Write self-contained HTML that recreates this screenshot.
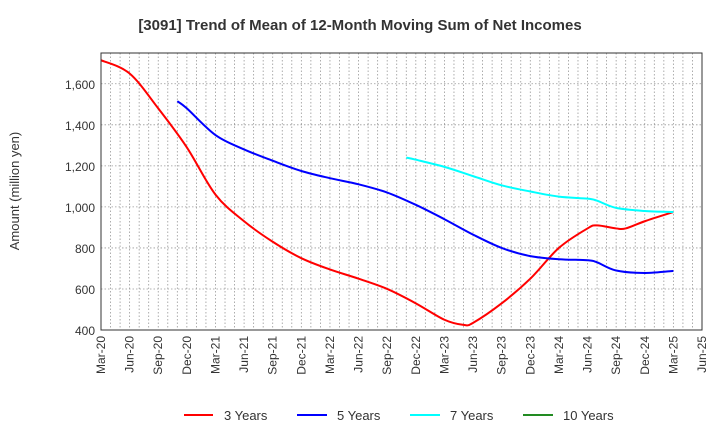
<!DOCTYPE html>
<html><head><meta charset="utf-8"><style>
body{margin:0;background:#fff;font-family:"Liberation Sans",sans-serif}
svg text{font-family:"Liberation Sans",sans-serif;fill:#333}
</style></head><body>
<svg id="c" width="720" height="440">
<text x="360" y="30" text-anchor="middle" font-size="15" font-weight="bold">[3091]  Trend of Mean of 12-Month Moving Sum of Net Incomes</text>
<text transform="translate(19,191) rotate(-90)" text-anchor="middle" font-size="13">Amount (million yen)</text>
<g id="grid"></g><g id="series"></g><g id="axes"></g>
<g>
<line x1="184" y1="415" x2="213" y2="415" stroke="#ff0000" stroke-width="2"/><text x="224" y="420" font-size="13">3 Years</text>
<line x1="297" y1="415" x2="327" y2="415" stroke="#0000ff" stroke-width="2"/><text x="337" y="420" font-size="13">5 Years</text>
<line x1="410" y1="415" x2="440" y2="415" stroke="#00ffff" stroke-width="2"/><text x="450" y="420" font-size="13">7 Years</text>
<line x1="523" y1="415" x2="553" y2="415" stroke="#228b22" stroke-width="2"/><text x="563" y="420" font-size="13">10 Years</text>
</g>
</svg>
<script>
const xTickLabels=["Mar-20","Jun-20","Sep-20","Dec-20","Mar-21","Jun-21","Sep-21","Dec-21","Mar-22","Jun-22","Sep-22","Dec-22","Mar-23","Jun-23","Sep-23","Dec-23","Mar-24","Jun-24","Sep-24","Dec-24","Mar-25","Jun-25"];
const yTicks=[400,600,800,1000,1200,1400,1600];
// month index from Mar-20
const months3=[0,3,6,9,12,15,18,21,24,27,30,33,36,38,39,42,45,48,51,52,54,55,57,60];
const vals3=[1715,1650,1480,1290,1060,930,830,750,695,650,600,530,450,425,435,530,650,800,895,910,895,895,930,975];
const months5=[8,9,12,15,18,21,24,27,30,33,36,39,42,45,48,51,52,54,57,60];
const vals5=[1515,1480,1350,1280,1225,1175,1140,1110,1070,1010,940,865,800,760,745,740,730,690,678,688];
const months7=[32,33,36,39,42,45,48,51,52,54,57,60];
const vals7=[1240,1230,1195,1150,1105,1075,1050,1040,1030,995,980,975];
const L=101,R=702,T=53,B=330,YMIN=400,YMAX=1750,NM=63;
const X=m=>L+(R-L)*m/NM, Y=v=>B-(B-T)*(v-YMIN)/(YMAX-YMIN);
const NS="http://www.w3.org/2000/svg";
function mk(t,a,p){const e=document.createElementNS(NS,t);for(const k in a)e.setAttribute(k,a[k]);p.appendChild(e);return e;}
const grid=document.getElementById('grid'),axes=document.getElementById('axes'),ser=document.getElementById('series');
for(let m=1;m<NM;m++){const l=mk('line',{x1:X(m),x2:X(m),y1:T,y2:B,stroke:'#999','stroke-width':0.8,'stroke-dasharray':'1.5,2'},grid);
}
yTicks.forEach(v=>{if(v>YMIN){const l=mk('line',{x1:L,x2:R,y1:Y(v),y2:Y(v),stroke:'#999','stroke-width':0.8,'stroke-dasharray':'1.5,2'},grid);
}
const t=mk('text',{x:L-6,y:Y(v)+5,'text-anchor':'end','font-size':12},axes);t.textContent=v.toLocaleString('en-US');
});
xTickLabels.forEach((s,i)=>{const x=X(i*3);const t=mk('text',{transform:`translate(${x+4},${B+6}) rotate(-90)`,'text-anchor':'end','font-size':12},axes);t.textContent=s;
});
const fr=mk('rect',{x:L,y:T,width:R-L,height:B-T,fill:'none',stroke:'#333','stroke-width':1},axes);

function path(ms,vs){const p=ms.map((m,i)=>[X(m),Y(vs[i])]);let d=`M${p[0][0]},${p[0][1]}`;
for(let i=0;i<p.length-1;i++){const p0=p[i-1]||p[i],p1=p[i],p2=p[i+1],p3=p[i+2]||p2;
d+=`C${p1[0]+(p2[0]-p0[0])/6},${p1[1]+(p2[1]-p0[1])/6} ${p2[0]-(p3[0]-p1[0])/6},${p2[1]-(p3[1]-p1[1])/6} ${p2[0]},${p2[1]}`;}return d;}
[[months3,vals3,'#ff0000','line-3-years'],[months5,vals5,'#0000ff','line-5-years'],[months7,vals7,'#00ffff','line-7-years']].forEach(s=>{
const e=mk('path',{d:path(s[0],s[1]),fill:'none',stroke:s[2],'stroke-width':2},ser);
});
</script>
</body></html>
